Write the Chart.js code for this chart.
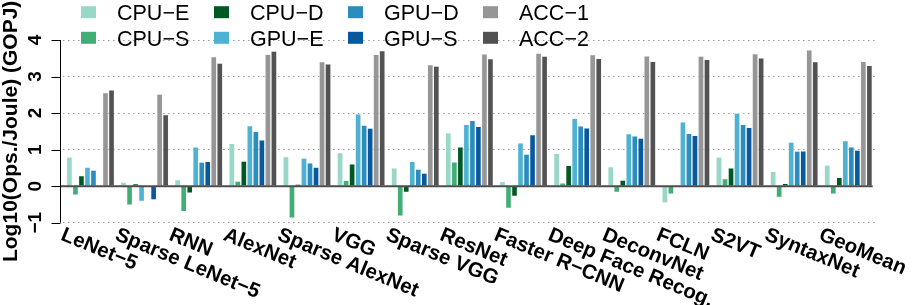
<!DOCTYPE html>
<html>
<head>
<meta charset="utf-8">
<script src="https://cdn.jsdelivr.net/npm/chart.js@4.4.1/dist/chart.umd.min.js"></script>
<style>
  html, body { margin: 0; padding: 0; background: #fff; }
  #wrap { width: 913px; height: 305px; position: relative; }
</style>
</head>
<body>
<div id="wrap"><canvas id="chart"></canvas></div>
<script>
const categories = ['LeNet−5', 'Sparse LeNet−5', 'RNN', 'AlexNet', 'Sparse AlexNet', 'VGG', 'Sparse VGG',
    'ResNet', 'Faster R−CNN', 'Deep Face Recog.', 'DeconvNet', 'FCLN', 'S2VT', 'SyntaxNet', 'GeoMean'];

const seriesNames = ['CPU−E', 'CPU−S', 'CPU−D', 'GPU−E', 'GPU−D', 'GPU−S', 'ACC−1', 'ACC−2'];
const seriesColors = ['#99d8c9', '#41ae76', '#005824', '#4eb3d3', '#2b8cbe', '#08589e', '#969696', '#525252'];

const cpuE = [0.80, 0.11, 0.18, 1.17, 0.81, 0.92, 0.50, 1.46, 0.13, 0.90, 0.54, -0.46, 0.80, 0.41, 0.58];
const cpuS = [-0.25, -0.52, -0.70, 0.14, -0.88, 0.16, -0.82, 0.67, -0.61, 0.09, -0.17, -0.22, 0.21, -0.31, -0.22];
const cpuD = [0.29, 0.07, -0.19, 0.69, 0.06, 0.61, -0.17, 1.08, -0.28, 0.57, 0.17, null, 0.50, 0.08, 0.24];
const gpuE = [0.52, -0.42, 1.08, 1.66, 0.77, 1.98, 0.68, 1.69, 1.19, 1.86, 1.44, 1.76, 2.00, 1.21, 1.25];
const gpuD = [0.44, null, 0.66, 1.50, 0.64, 1.67, 0.47, 1.80, 0.88, 1.65, 1.38, 1.45, 1.69, 0.96, 1.08];
const gpuS = [null, -0.38, 0.68, 1.27, 0.52, 1.59, 0.36, 1.64, 1.41, 1.60, 1.32, 1.39, 1.61, 0.97, 0.99];
const acc1 = [2.56, 2.52, 3.55, 3.61, 3.41, 3.61, 3.33, 3.62, 3.64, 3.60, 3.57, 3.56, 3.63, 3.73, 3.42];
const acc2 = [2.64, 1.96, 3.37, 3.70, 3.35, 3.71, 3.29, 3.49, 3.56, 3.50, 3.42, 3.47, 3.51, 3.41, 3.31];

const yTickValues = [-1, 0, 1, 2, 3, 4];
const yTitle = 'Log10(Ops./Joule) (GOPJ)';

const seriesValues = [cpuE, cpuS, cpuD, gpuE, gpuD, gpuS, acc1, acc2];
const FONT = '"Liberation Sans", Arial, Helvetica, sans-serif';

// axis, labels, zero line and legend drawn R-style on top of the chart
const furniture = {
    id: 'furniture',
    afterDatasetsDraw(chart) {
        const { ctx, chartArea, scales: { y } } = chart;
        const y0 = y.getPixelForValue(0);
        ctx.save();
        ctx.strokeStyle = '#4d4d4d';
        ctx.lineWidth = 2;
        ctx.beginPath();
        ctx.moveTo(chartArea.left - 3.5, y0);
        ctx.lineTo(chartArea.right - 2.7, y0);
        ctx.stroke();
        ctx.restore();
    },
    afterDraw(chart) {
        const { ctx, chartArea, scales: { x, y } } = chart;
        const axisX = Math.round(chartArea.left - 3.5) + 0.5;
        ctx.save();

        // y axis line + ticks
        ctx.strokeStyle = '#000';
        ctx.lineWidth = 1;
        ctx.beginPath();
        ctx.moveTo(axisX, y.getPixelForValue(4));
        ctx.lineTo(axisX, y.getPixelForValue(-1));
        yTickValues.forEach(v => {
            const py = Math.round(y.getPixelForValue(v)) + 0.5;
            ctx.moveTo(axisX - 9, py);
            ctx.lineTo(axisX, py);
        });
        ctx.stroke();

        // y tick labels (rotated)
        ctx.fillStyle = '#000';
        ctx.font = 'bold 19px ' + FONT;
        ctx.textAlign = 'center';
        ctx.textBaseline = 'alphabetic';
        yTickValues.forEach(v => {
            const label = v < 0 ? '−' + Math.abs(v) : String(v);
            ctx.save();
            ctx.translate(40.5, y.getPixelForValue(v));
            ctx.rotate(-Math.PI / 2);
            ctx.fillText(label, 0, 0);
            ctx.restore();
        });

        // y title
        ctx.font = 'bold 21px ' + FONT;
        ctx.save();
        ctx.translate(16.5, (chartArea.top + chartArea.bottom) / 2);
        ctx.rotate(-Math.PI / 2);
        ctx.fillText(yTitle, 0, 0);
        ctx.restore();

        // x labels, slanted downwards
        const ang = 22.5 * Math.PI / 180;
        const capH = 14.7;
        ctx.font = 'bold 20.5px ' + FONT;
        ctx.textAlign = 'left';
        categories.forEach((label, i) => {
            const cx = x.getPixelForValue(i);
            ctx.save();
            ctx.translate(cx - 25 - capH * Math.sin(ang), 225.8 + capH * Math.cos(ang));
            ctx.rotate(ang);
            ctx.fillText(label, 0, 0);
            ctx.restore();
        });

        // legend: 2 rows, filled column by column
        const colX = [81, 214, 348, 483];
        const rowY = [12.2, 37.8];
        ctx.font = '21.5px ' + FONT;
        seriesNames.forEach((name, i) => {
            const col = Math.floor(i / 2);
            const row = i % 2;
            ctx.fillStyle = seriesColors[i];
            ctx.fillRect(colX[col], rowY[row] - 6, 15, 12);
            ctx.fillStyle = '#000';
            ctx.fillText(name, colX[col] + 36, rowY[row] + 7.7);
        });

        ctx.restore();
    }
};

const datasets = seriesNames.map((name, i) => ({
    label: name,
    data: seriesValues[i],
    backgroundColor: seriesColors[i],
    borderColor: 'rgba(240, 240, 240, 0.9)',
    borderWidth: 0.7,
    categoryPercentage: 8 / 9,
    barPercentage: 1.0
}));

new Chart(document.getElementById('chart'), {
    type: 'bar',
    data: { labels: categories, datasets: datasets },
    options: {
        responsive: true,
        maintainAspectRatio: false,
        animation: false,
        layout: { padding: { top: 40, right: 37.6, left: 0, bottom: 0 } },
        plugins: {
            legend: { display: false },
            tooltip: { enabled: false }
        },
        scales: {
            x: {
                ticks: { display: false },
                grid: { display: false },
                border: { display: false },
                afterFit: s => { s.height = 82.3; }
            },
            y: {
                min: -1,
                max: 4,
                ticks: { display: false, stepSize: 1 },
                grid: {
                    color: c => (c.tick && c.tick.value === 0) ? 'rgba(0,0,0,0)' : '#9a9a9a',
                    lineWidth: 1,
                    drawTicks: false
                },
                border: { display: false, dash: [1.5, 3.5] },
                afterFit: s => { s.width = 63.4; }
            }
        }
    },
    plugins: [furniture]
});
</script>
</body>
</html>
